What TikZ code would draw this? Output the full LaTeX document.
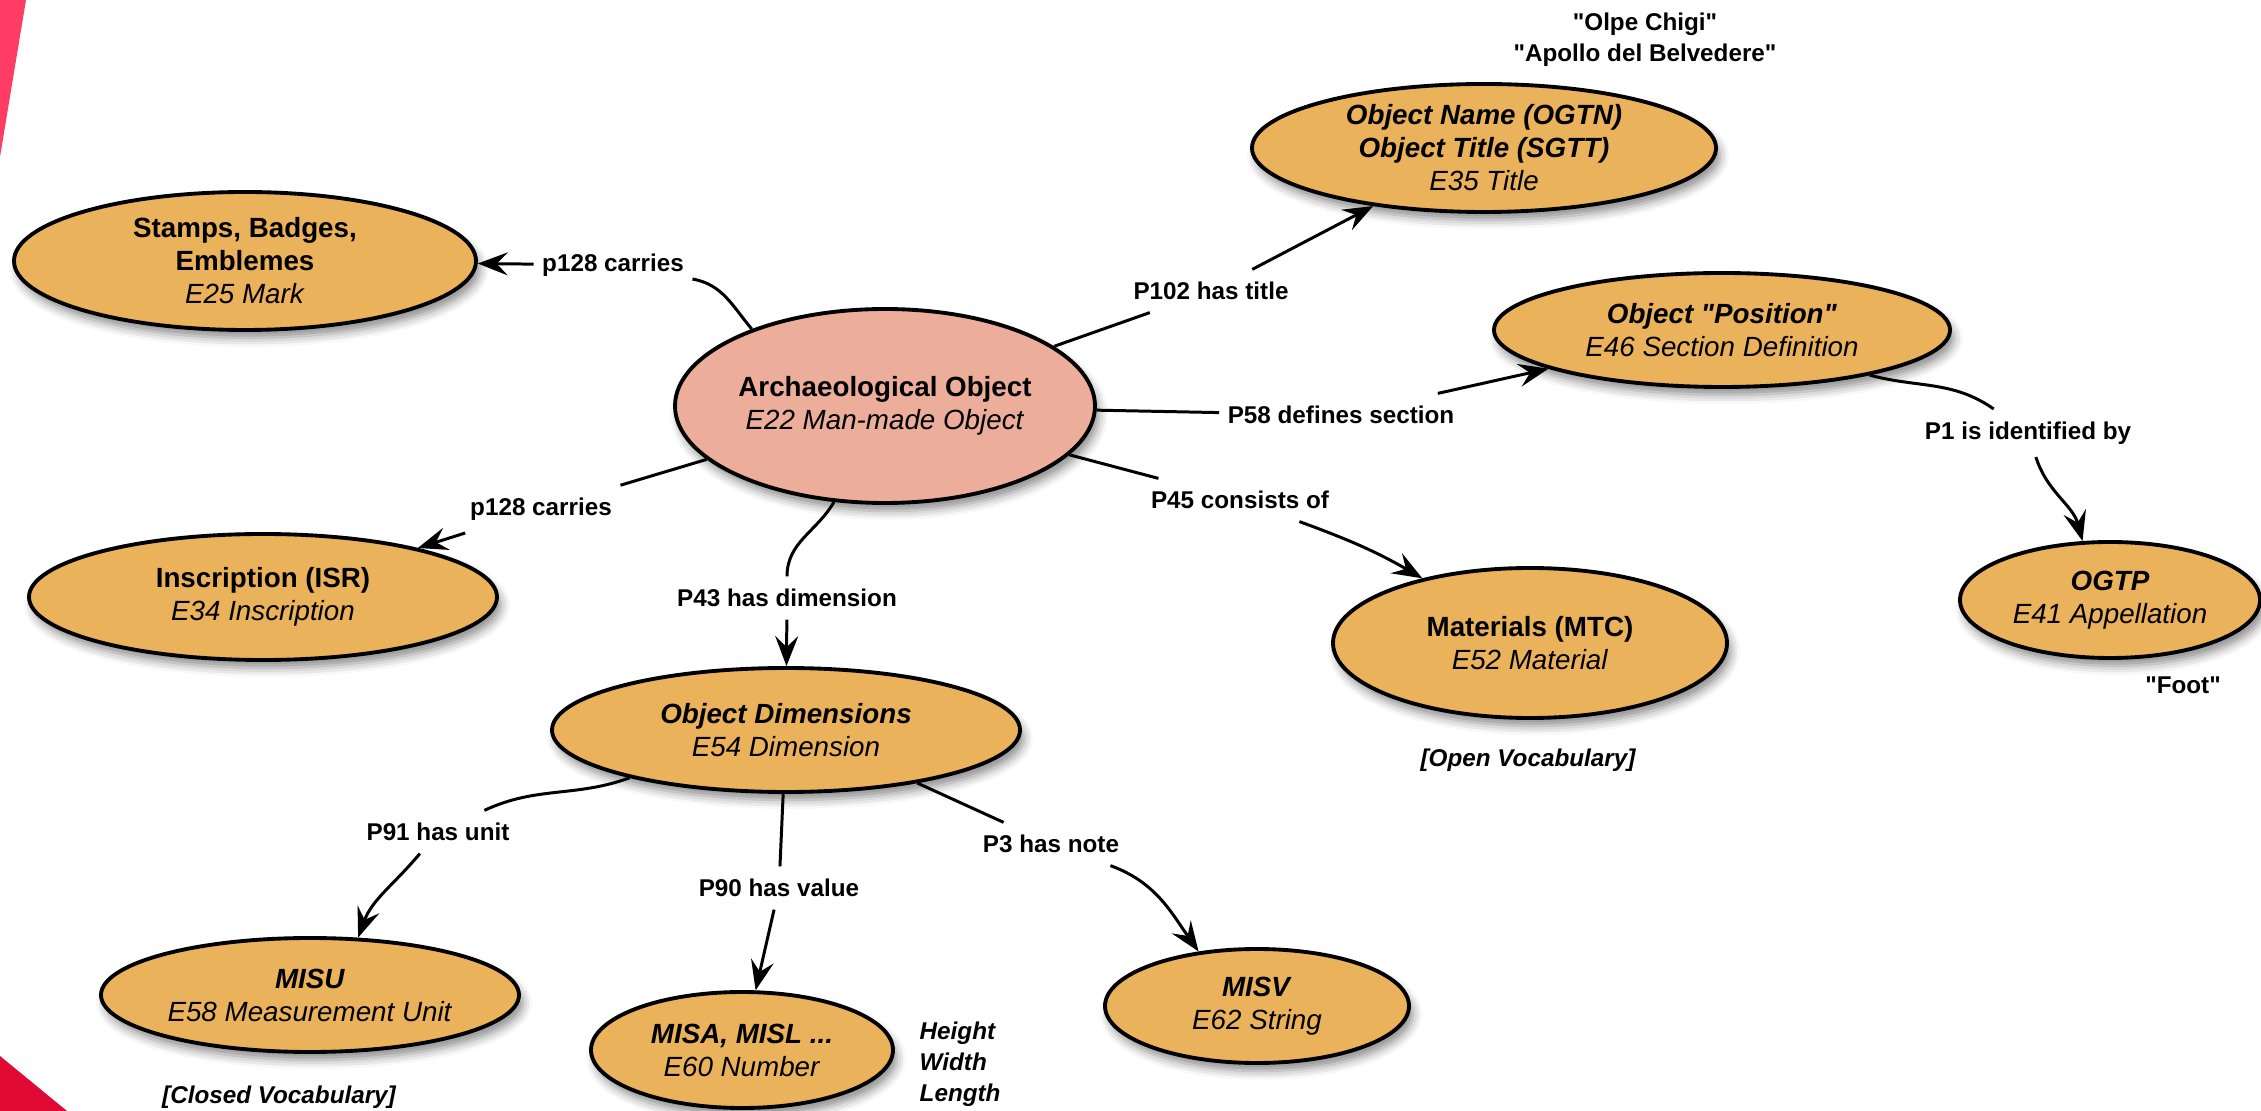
\documentclass[tikz,border=0pt]{standalone}
\usepackage{fontspec}
\setmainfont{Liberation Sans}[Ligatures=TeXOff]
\usetikzlibrary{shapes.geometric,arrows.meta,shadows.blur}
\definecolor{entityfill}{RGB}{235,178,92}
\definecolor{mainfill}{RGB}{236,173,155}
\definecolor{cornerpink}{RGB}{255,60,100}
\definecolor{cornerred}{RGB}{225,10,53}
\tikzset{
  entity/.style={ellipse, draw, line width=1.1pt, fill=entityfill, inner sep=-1mm,
    align=center, font=\fontsize{7.9}{9.4}\selectfont,
    blur shadow={shadow xshift=0.4mm, shadow yshift=-0.8mm, shadow blur radius=0.9mm, shadow opacity=45}},
  mainentity/.style={entity, fill=mainfill},
  rellabel/.style={font=\bfseries\fontsize{6.9}{8}\selectfont, inner xsep=0.8mm, inner ysep=1.2mm},
  note/.style={font=\bfseries\fontsize{6.9}{8.7}\selectfont, align=center},
  rel/.style={line width=0.85pt, -{Stealth[length=3mm,width=2.3mm,inset=1.1mm]}}
}
\begin{document}
\begin{tikzpicture}[x=0.1mm, y=-0.1mm]
  \useasboundingbox (0,0) rectangle (2261,1111);
  \fill[cornerpink] (0,0) -- (26,0) -- (0,157) -- cycle;
  \fill[cornerred] (0,1056) -- (67,1111) -- (0,1111) -- cycle;

  \node[mainentity, minimum width=42mm, minimum height=19.4mm] (arch) at (885,406)
    {\textbf{Archaeological Object}\\\textit{E22 Man-made Object}};
  \node[entity, minimum width=46.2mm, minimum height=13.8mm] (mark) at (245,261)
    {\textbf{Stamps, Badges,}\\\textbf{Emblemes}\\\textit{E25 Mark}};
  \node[entity, minimum width=46.4mm, minimum height=12.8mm] (title) at (1484,148)
    {\textbf{\textit{Object Name (OGTN)}}\\\textbf{\textit{Object Title (SGTT)}}\\\textit{E35 Title}};
  \node[entity, minimum width=45.6mm, minimum height=11.4mm] (section) at (1722,330)
    {\textbf{\textit{Object "Position"}}\\\textit{E46 Section Definition}};
  \node[entity, minimum width=30mm, minimum height=11.6mm] (appellation) at (2110,600)
    {\textbf{\textit{OGTP}}\\\textit{E41 Appellation}};
  \node[entity, minimum width=39.4mm, minimum height=15mm] (material) at (1530,643)
    {\textbf{Materials (MTC)}\\\textit{E52 Material}};
  \node[entity, minimum width=46.8mm, minimum height=12.6mm] (inscription) at (263,597)
    {\textbf{Inscription (ISR)}\\\textit{E34 Inscription}};
  \node[entity, minimum width=46.8mm, minimum height=12.4mm] (dimension) at (786,730)
    {\textbf{\textit{Object Dimensions}}\\\textit{E54 Dimension}};
  \node[entity, minimum width=41.8mm, minimum height=11.4mm] (unit) at (310,995)
    {\textbf{\textit{MISU}}\\\textit{E58 Measurement Unit}};
  \node[entity, minimum width=30.2mm, minimum height=11.6mm] (number) at (742,1050)
    {\textbf{\textit{MISA, MISL ...}}\\\textit{E60 Number}};
  \node[entity, minimum width=30.4mm, minimum height=11.4mm] (string) at (1257,1006)
    {\textbf{\textit{MISV}}\\\textit{E62 String}};

  \node[rellabel] (carries1) at (613,265) {p128 carries};
  \node[rellabel] (hastitle) at (1211,291) {P102 has title};
  \node[rellabel] (defines) at (1341,415) {P58 defines section};
  \node[rellabel] (consists) at (1240,500) {P45 consists of};
  \node[rellabel] (carries2) at (541,509) {p128 carries};
  \node[rellabel] (hasdim) at (787,598) {P43 has dimension};
  \node[rellabel] (identified) at (2028,433) {P1 is identified by};
  \node[rellabel] (hasunit) at (438,832) {P91 has unit};
  \node[rellabel] (hasvalue) at (779,888) {P90 has value};
  \node[rellabel] (hasnote) at (1051,844) {P3 has note};

  \node[note] (titles) at (1645,40) {"Olpe Chigi"\\"Apollo del Belvedere"};
  \node[note] (foot) at (2183,685) {"Foot"};
  \node[note, font=\bfseries\itshape\fontsize{6.9}{8.7}\selectfont] (openvoc) at (1528,760) {[Open Vocabulary]};
  \node[note, font=\bfseries\itshape\fontsize{6.9}{8.7}\selectfont] (closedvoc) at (279,1097) {[Closed Vocabulary]};
  \node[note, font=\bfseries\itshape\fontsize{6.9}{8.8}\selectfont, align=left, anchor=west, inner sep=0pt] (measures) at (919,1064) {Height\\Width\\Length};

  \draw[rel] (arch.150) to[out=130,in=-10] (carries1) -- (mark);
  \draw[rel] (arch) -- (hastitle) -- (title);
  \draw[rel] (arch) -- (defines) -- (section);
  \draw[rel] (arch) -- (consists) to[out=-20,in=150] (material.149);
  \draw[rel] (arch) -- (carries2) -- (inscription);
  \draw[rel] (arch.-118) to[out=-120,in=90] (hasdim) -- (dimension);
  \draw[rel] (section.-17) to[out=-15,in=145] (identified) to[out=-72,in=105] (appellation.115);
  \draw[rel] (dimension.-163) to[out=-160,in=25] (hasunit) to[out=-130,in=70] (unit.50);
  \draw[rel] (dimension) -- (hasvalue) -- (number);
  \draw[rel] (dimension.-22) -- (hasnote) to[out=-20,in=125] (string.137);
\end{tikzpicture}
\end{document}
